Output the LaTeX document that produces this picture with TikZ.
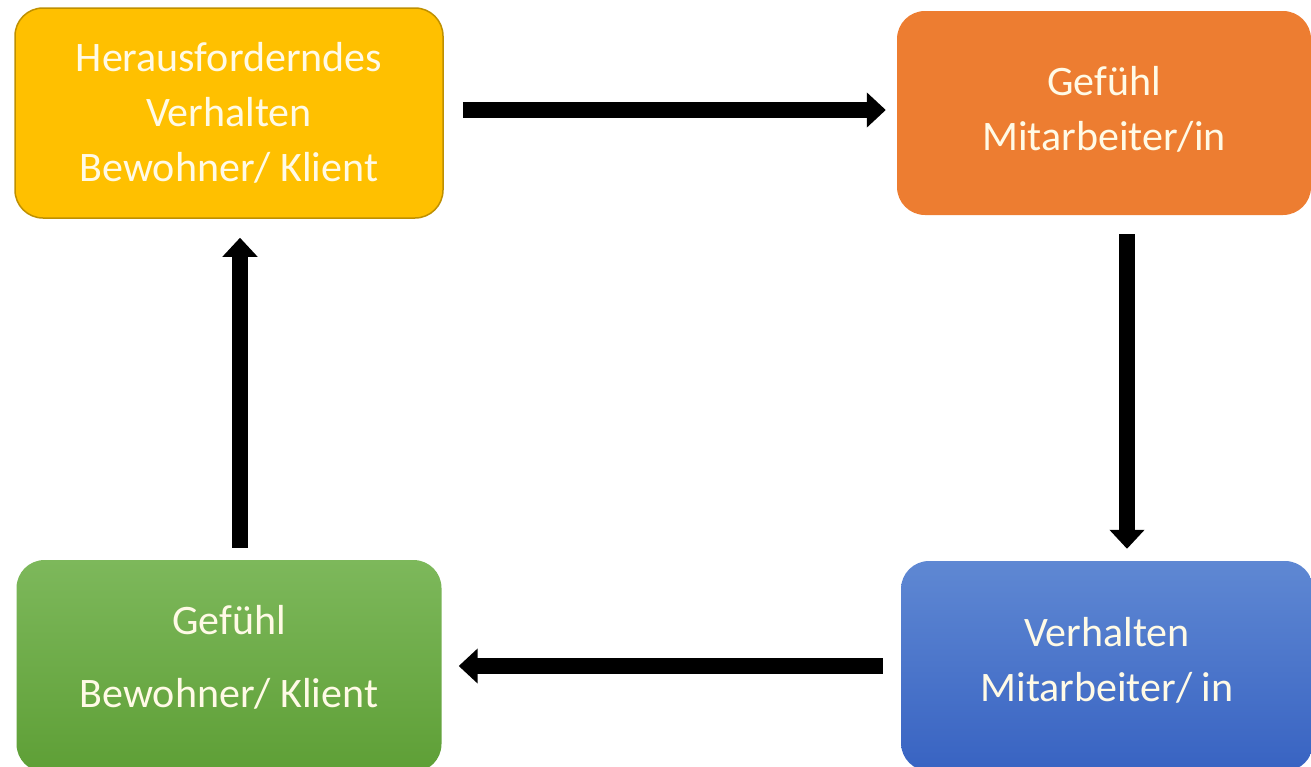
\documentclass[tikz,border=0pt]{standalone}
\usepackage{fontspec}
\setmainfont{Carlito}
\usepackage{tikz}
\usetikzlibrary{arrows.meta}

\definecolor{gelb}{HTML}{FFC000}
\definecolor{gelbrand}{HTML}{BF9000}
\definecolor{orange}{HTML}{ED7D31}
\definecolor{gruenoben}{HTML}{7DB85B}
\definecolor{gruenunten}{HTML}{5E9F36}
\definecolor{blauoben}{HTML}{5F88D3}
\definecolor{blauunten}{HTML}{3863C2}
\definecolor{schrift}{HTML}{FFFAE6}

\begin{document}
\begin{tikzpicture}[x=1pt,y=1pt]
      \tikzstyle{box}=[rectangle,rounded corners=28pt,inner sep=0pt,align=center,
        text=schrift,font=\fontsize{42}{55}\selectfont]
      \tikzstyle{pfeil}=[line width=16pt,-{Triangle[width=34pt,length=19pt]}]

      \useasboundingbox (0,0) rectangle (1311,-766);

      \begin{scope}
        \node[box,fill=gelb,draw=gelbrand,line width=1.5pt,minimum width=428pt,minimum height=210pt]
          (verhaltenbw) at (229,-113) {Herausforderndes\\Verhalten\\Bewohner/ Klient};
        \node[box,fill=orange,minimum width=414pt,minimum height=204pt]
          (gefuehlma)[right of=verhaltenbw,node distance=875pt]
          {Gefühl\\Mitarbeiter/in\rule[-10pt]{0pt}{0pt}};
        \node[box,top color=gruenoben,bottom color=gruenunten,minimum width=425pt,minimum height=212pt]
          (gefuehlbw)[below of=verhaltenbw,node distance=553pt]
          {Gefühl\\[18pt]Bewohner/ Klient\rule[-19pt]{0pt}{0pt}};
        \node[box,top color=blauoben,bottom color=blauunten,minimum width=412pt,minimum height=210pt]
          (verhaltenma)[right of=gefuehlbw,node distance=878pt]
          {Verhalten\\Mitarbeiter/ in\rule[-13pt]{0pt}{0pt}};

        \draw[pfeil,shorten <=19pt,shorten >=11pt]
          ([yshift=3pt]verhaltenbw.east) -- ([yshift=3pt]verhaltenbw.east -| gefuehlma.west);
        \draw[pfeil,shorten <=19pt,shorten >=12pt]
          ([xshift=23pt]gefuehlma.south) -- ([xshift=23pt]gefuehlma.south |- verhaltenma.north);
        \draw[pfeil,shorten <=18pt,shorten >=17pt]
          (verhaltenma.west) -- (verhaltenma.west -| gefuehlbw.east);
        \draw[pfeil,shorten <=12pt,shorten >=19pt]
          ([xshift=11pt]gefuehlbw.north) -- ([xshift=11pt]gefuehlbw.north |- verhaltenbw.south);
      \end{scope}
    \end{tikzpicture}
\end{document}
